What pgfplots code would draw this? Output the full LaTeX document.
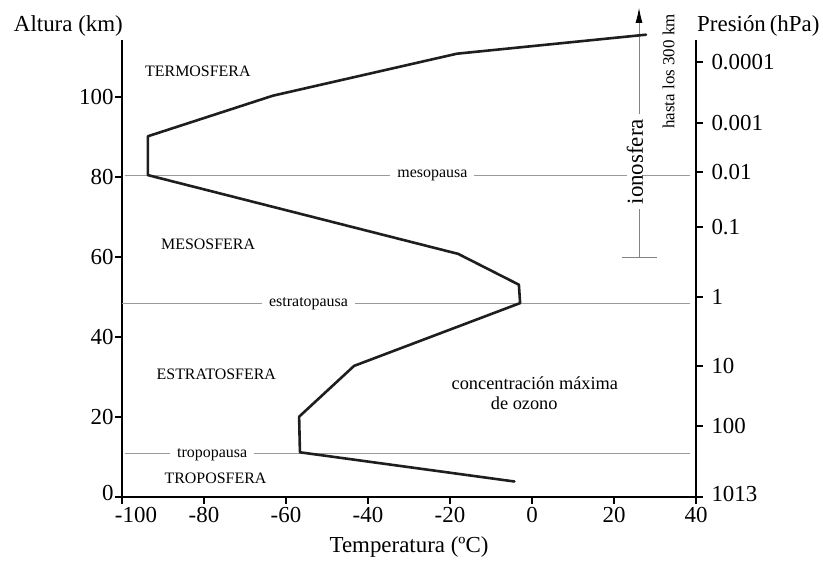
\documentclass[border=0pt]{standalone}
\usepackage{fontspec}
\setmainfont{Liberation Serif}
\usepackage{pgfplots}
\pgfplotsset{compat=1.18}
\usetikzlibrary{arrows.meta}

\definecolor{perfil}{HTML}{1E1E1E}
\definecolor{guia}{HTML}{9A9A9A}

\newcommand{\fgrande}{\fontsize{23}{26}\selectfont}
\newcommand{\fchica}{\fontsize{16}{18}\selectfont}

\begin{document}
\begin{tikzpicture}[x=1bp,y=1bp]
\pgfplotsset{
  base/.style={
    at={(0,0)}, anchor=south west,
    scale only axis, width=574bp, height=457bp,
    xmin=-100, xmax=40, ymin=0, ymax=114.25,
    clip=false,
    axis line style={line width=1.8pt, black},
    tick style={line width=1.8pt, black},
    tick align=outside, major tick length=7bp,
    minor tick num=0,
    ticklabel style={font=\fgrande},
  }
}
% eje principal: temperatura / altura
\begin{axis}[base,
    axis x line*=bottom, axis y line*=left,
    xtick={-100,-80,-60,-40,-20,0,20,40},
    xticklabels={\hspace*{28bp}-100,-80,-60,-40,-20,0,20,40},
    ytick={0,20,40,60,80,100},
    yticklabels={\raisebox{7bp}{0},20,40,60,80,100},
    yticklabel style={xshift=2bp},
  ]
  % capas limite
  \addplot[guia, line width=0.8pt] coordinates {(-99.3,80.4) (38.5,80.4)};
  \addplot[guia, line width=0.8pt] coordinates {(-100,48.35) (38.5,48.35)};
  \addplot[guia, line width=0.8pt] coordinates {(-99.3,10.9) (38.5,10.9)};

  % ionosfera
  \addplot[guia!85!black, line width=0.8pt, -{Latex[length=15bp,width=7bp,color=black]}]
    coordinates {(26.1,59.75) (26.1,122.2)};
  \addplot[guia!85!black, line width=0.8pt] coordinates {(21.9,59.75) (30.5,59.75)};

  \node[font=\fchica, fill=white, inner xsep=7bp, inner ysep=1bp, anchor=base] at (-24.3,79.85) {mesopausa};
  \node[font=\fchica, fill=white, inner xsep=7bp, inner ysep=1bp, anchor=base] at (-54.5,47.5) {estratopausa};
  \node[font=\fchica, fill=white, inner xsep=7bp, inner ysep=1bp, anchor=base] at (-78,9.9) {tropopausa};

  \node[font=\fgrande, fill=white, rotate=90, inner xsep=5bp, inner ysep=0bp] at (25.1,83.75) {ionosfera};
  \node[font=\fontsize{17}{19}\selectfont, rotate=90, inner sep=0] at (33.3,106.3) {hasta los 300 km};

  \node[font=\fchica, inner sep=0] at (-81.5,106.3) {TERMOSFERA};
  \node[font=\fchica, inner sep=0] at (-79,63.2) {MESOSFERA};
  \node[font=\fchica, inner sep=0] at (-77,30.7) {ESTRATOSFERA};
  \node[font=\fchica, inner sep=0] at (-77.2,4.55) {TROPOSFERA};

  \node[font=\fontsize{18.4}{20}\selectfont, inner sep=0, anchor=base] at (0.7,26.7) {concentración máxima};
  \node[font=\fontsize{18.4}{20}\selectfont, inner sep=0, anchor=base] at (-1.9,21.7) {de ozono};

  % perfil de temperatura
  \addplot[perfil, line width=2.6bp, line join=round, line cap=round] coordinates {
    (-4.3,3.8)
    (-56.6,11.1)
    (-56.8,20)
    (-43.4,32.7)
    (-2.9,48.4)
    (-3.2,53)
    (-18,60.7)
    (-93.7,80.4)
    (-93.7,90.1)
    (-63.2,100.25)
    (-18.3,110.75)
    (27.8,115.5)
  };

  \node[font=\fgrande, anchor=base east, inner sep=0, xshift=1bp, yshift=8.3bp] at (rel axis cs:0,1) {Altura (km)};
  \node[font=\fgrande, anchor=base west, inner sep=0, xshift=1bp, yshift=8.3bp] at (rel axis cs:1,1) {Presión\,(hPa)};
  \node[font=\fgrande, anchor=base, inner sep=0, yshift=-56.3bp] at (rel axis cs:0.5,0) {Temperatura (ºC)};
\end{axis}

% eje derecho: presion
\begin{axis}[base,
    axis x line=none, axis y line*=right,
    ytick={0,17.75,32.7,49.85,67.5,81.25,93.35,108.6},
    yticklabels={\raisebox{5bp}{1013},100,10,1,0.1,0.01,0.001,0.0001},
    yticklabel style={xshift=5bp},
  ]
  \addplot[draw=none] coordinates {(0,0) (1,1)};
\end{axis}

\pgfresetboundingbox
\useasboundingbox (-122,-66.3) rectangle (701,496.7);
\end{tikzpicture}
\end{document}
